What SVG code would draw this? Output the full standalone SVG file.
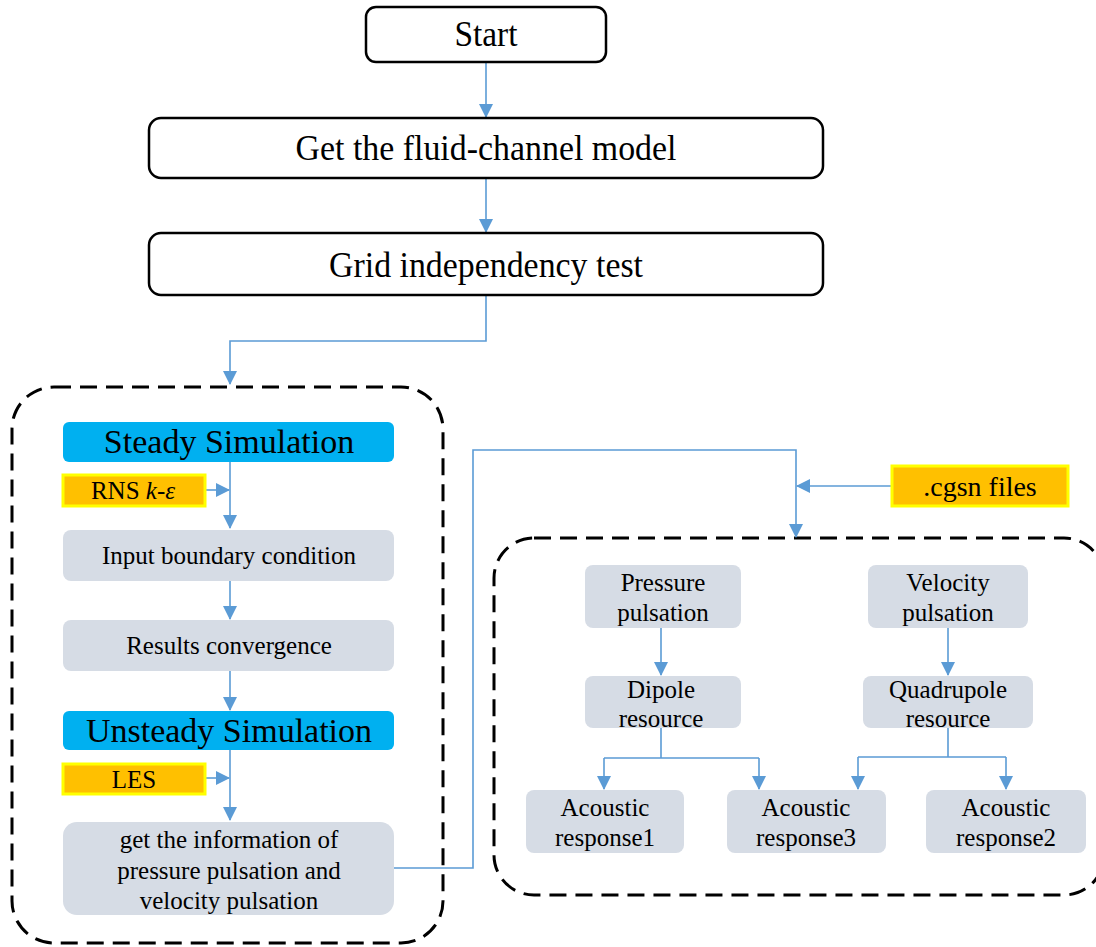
<svg xmlns="http://www.w3.org/2000/svg" width="1096" height="947" viewBox="0 0 1096 947">
<defs>
<marker id="ah" markerWidth="14" markerHeight="14" refX="13" refY="7" orient="auto" markerUnits="userSpaceOnUse">
<path d="M0,0 L14,7 L0,14 Z" fill="#5B9BD5"/>
</marker>
<style>
text{font-family:"Liberation Serif","Times New Roman",serif;fill:#000;text-anchor:middle}
.top{fill:#fff;stroke:#000;stroke-width:2.5}
.sim{fill:#00B0F0}
.tag{fill:#FFC000;stroke:#FFFF00;stroke-width:3}
.gray{fill:#D6DCE5}
.dash{fill:none;stroke:#000;stroke-width:3;stroke-dasharray:17,9}
.con{fill:none;stroke:#5B9BD5;stroke-width:1.6}
.arr{marker-end:url(#ah)}
.huge{font-size:35px}
.big{font-size:34px}
.mid{font-size:25px}
.sm{font-size:25px}
</style>
</defs>
<rect width="1096" height="947" fill="#fff"/>

<g id="containers">
<rect class="dash" x="12" y="387" width="431" height="556" rx="42"/>
<rect class="dash" x="494" y="538" width="610" height="357" rx="40"/>
</g>

<g id="connectors">
<path class="con arr" d="M486,62 V117"/>
<path class="con arr" d="M486,178 V232"/>
<path class="con arr" d="M486,295 V341 H230 V384"/>
<path class="con arr" d="M230,462 V528"/>
<path class="con arr" d="M205,490 H229"/>
<path class="con arr" d="M230,581 V619"/>
<path class="con arr" d="M230,671 V710"/>
<path class="con arr" d="M230,750 V820"/>
<path class="con arr" d="M205,778 H229"/>
<path class="con arr" d="M394,868 H473 V450 H796 V537"/>
<path class="con arr" d="M891,486 H797"/>
<path class="con arr" d="M661,628 V675"/>
<path class="con arr" d="M948,628 V675"/>
<path class="con" d="M661,728 V758 M604,758 H759"/>
<path class="con arr" d="M604,758 V789"/>
<path class="con arr" d="M759,758 V789"/>
<path class="con" d="M948,728 V757 M858,757 H1006"/>
<path class="con arr" d="M858,757 V789"/>
<path class="con arr" d="M1006,757 V789"/>
</g>

<g id="start"><rect class="top" x="366" y="7" width="240" height="55" rx="10"/><text class="huge" x="486" y="46" textLength="63" lengthAdjust="spacingAndGlyphs">Start</text></g>
<g id="model"><rect class="top" x="149" y="118" width="674" height="60" rx="12"/><text class="huge" x="486" y="160" textLength="381" lengthAdjust="spacingAndGlyphs">Get the fluid-channel model</text></g>
<g id="grid"><rect class="top" x="149" y="233" width="674" height="62" rx="12"/><text class="huge" x="486" y="277" textLength="314" lengthAdjust="spacingAndGlyphs">Grid independency test</text></g>

<g id="steady"><rect class="sim" x="63" y="422" width="331" height="40" rx="6"/><text class="big" x="229" y="453">Steady Simulation</text></g>
<g id="rns"><rect class="tag" x="63" y="475" width="142" height="31"/><text class="mid" x="133" y="499">RNS <tspan font-style="italic">k</tspan>-<tspan font-style="italic">ε</tspan></text></g>
<g id="input"><rect class="gray" x="63" y="530" width="331" height="51" rx="8"/><text class="sm" x="229" y="564">Input boundary condition</text></g>
<g id="results"><rect class="gray" x="63" y="620" width="331" height="51" rx="8"/><text class="sm" x="229" y="654">Results convergence</text></g>
<g id="unsteady"><rect class="sim" x="63" y="711" width="331" height="39" rx="6"/><text class="big" x="229" y="742">Unsteady Simulation</text></g>
<g id="les"><rect class="tag" x="63" y="764" width="142" height="30"/><text class="mid" x="134" y="788">LES</text></g>
<g id="info"><rect class="gray" x="63" y="822" width="331" height="93" rx="14"/>
<text class="sm" x="229" y="848">get the information of</text>
<text class="sm" x="229" y="879">pressure pulsation and</text>
<text class="sm" x="229" y="909">velocity pulsation</text></g>

<g id="cgsn"><rect class="tag" x="892" y="466" width="176" height="40"/><text x="980" y="496" font-size="28">.cgsn files</text></g>

<g id="pressure"><rect class="gray" x="585" y="565" width="156" height="63" rx="8"/><text class="sm" x="663" y="591">Pressure</text><text class="sm" x="663" y="621">pulsation</text></g>
<g id="velocity"><rect class="gray" x="868" y="565" width="160" height="63" rx="8"/><text class="sm" x="948" y="591">Velocity</text><text class="sm" x="948" y="621">pulsation</text></g>
<g id="dipole"><rect class="gray" x="585" y="676" width="156" height="52" rx="8"/><text class="sm" x="661" y="698">Dipole</text><text class="sm" x="661" y="727">resource</text></g>
<g id="quadrupole"><rect class="gray" x="863" y="676" width="170" height="52" rx="8"/><text class="sm" x="948" y="698">Quadrupole</text><text class="sm" x="948" y="727">resource</text></g>
<g id="ar1"><rect class="gray" x="526" y="790" width="158" height="63" rx="8"/><text class="sm" x="605" y="816">Acoustic</text><text class="sm" x="605" y="846">response1</text></g>
<g id="ar3"><rect class="gray" x="727" y="790" width="159" height="63" rx="8"/><text class="sm" x="806" y="816">Acoustic</text><text class="sm" x="806" y="846">response3</text></g>
<g id="ar2"><rect class="gray" x="926" y="790" width="160" height="63" rx="8"/><text class="sm" x="1006" y="816">Acoustic</text><text class="sm" x="1006" y="846">response2</text></g>
</svg>
